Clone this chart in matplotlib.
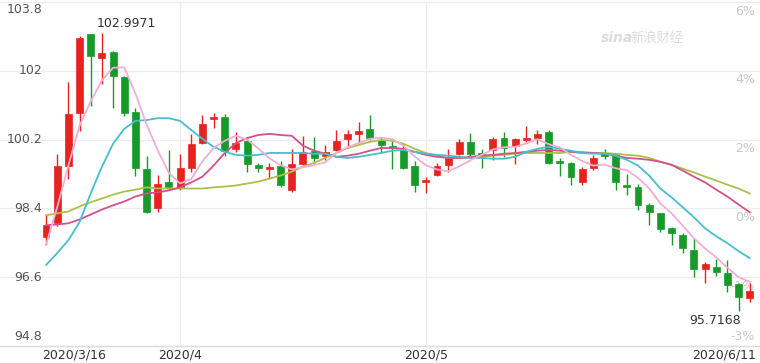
import numpy as np
import matplotlib
matplotlib.use("Agg")
from matplotlib import pyplot as plt

# daily candles, 2020/3/16 .. 2020/6/11
opens = [97.65, 98.01, 99.52, 100.90, 102.95, 102.33, 102.48, 101.83, 100.92, 99.44,
         98.40, 99.10, 98.95, 99.47, 100.12, 100.74, 100.79, 99.96, 100.17, 99.54,
         99.44, 99.52, 98.87, 99.57, 99.91, 99.78, 99.93, 100.22, 100.35, 100.48,
         100.19, 100.04, 99.96, 99.52, 99.08, 99.28, 99.54, 99.83, 100.14, 99.86,
         99.93, 100.25, 100.04, 100.19, 100.25, 100.40, 99.65, 99.60, 99.10, 99.47,
         99.83, 99.83, 99.02, 98.97, 98.48, 98.27, 97.88, 97.70, 97.31, 96.82,
         96.87, 96.71, 96.43, 96.06]
closes = [97.96, 99.52, 100.87, 102.85, 102.38, 102.46, 101.86, 100.90, 99.47, 98.30,
          99.05, 98.95, 99.47, 100.09, 100.61, 100.79, 99.91, 100.12, 99.57, 99.47,
          99.47, 99.00, 99.57, 99.88, 99.73, 99.88, 100.17, 100.35, 100.43, 100.25,
          100.06, 99.98, 99.47, 99.02, 99.10, 99.52, 99.73, 100.14, 99.83, 99.80,
          100.22, 99.99, 100.22, 100.25, 100.35, 99.60, 99.60, 99.21, 99.44, 99.73,
          99.78, 99.08, 98.95, 98.48, 98.30, 97.85, 97.75, 97.36, 96.82, 96.95,
          96.74, 96.40, 96.09, 96.24]
highs = [98.22, 99.83, 101.70, 102.90, 102.97, 102.9971, 102.53, 101.86, 101.03, 99.78,
         99.28, 99.93, 99.83, 100.35, 100.84, 100.90, 100.87, 100.40, 100.27, 99.59,
         99.59, 99.65, 99.96, 100.30, 100.27, 100.06, 100.45, 100.45, 100.66, 100.84,
         100.27, 100.17, 100.12, 99.65, 99.21, 99.59, 99.96, 100.22, 100.38, 99.96,
         100.27, 100.40, 100.25, 100.56, 100.45, 100.45, 99.73, 99.62, 99.49, 99.80,
         99.96, 99.86, 99.31, 99.05, 98.53, 98.27, 97.91, 97.75, 97.62, 97.00,
         97.08, 97.05, 96.45, 96.45]
lows = [97.44, 97.95, 99.18, 100.43, 101.08, 101.65, 101.03, 100.82, 99.26, 98.27,
        98.30, 98.89, 98.89, 99.36, 100.09, 100.51, 99.78, 99.88, 99.36, 99.36,
        99.18, 98.95, 98.82, 99.54, 99.60, 99.67, 99.91, 99.99, 100.12, 100.19,
        99.86, 99.44, 99.44, 98.82, 98.79, 99.26, 99.34, 99.80, 99.78, 99.47,
        99.67, 99.75, 99.57, 100.14, 100.09, 99.57, 99.26, 99.00, 99.02, 99.41,
        99.70, 98.87, 98.74, 98.35, 97.96, 97.78, 97.44, 97.23, 96.61, 96.45,
        96.63, 96.22, 95.7168, 95.96]

# moving average lines
ma5 = [97.44, 98.43, 99.52, 100.56, 101.20, 101.75, 102.08, 102.09, 101.41, 100.60,
       99.92, 99.33, 99.05, 99.17, 99.63, 99.98, 100.17, 100.30, 100.20, 99.97,
       99.71, 99.53, 99.42, 99.48, 99.53, 99.61, 99.85, 100.00, 100.11, 100.22,
       100.25, 100.21, 100.04, 99.76, 99.53, 99.42, 99.37, 99.50, 99.66, 99.80,
       99.94, 100.00, 100.01, 100.10, 100.21, 100.08, 100.00, 99.80, 99.64, 99.52,
       99.55, 99.45, 99.40, 99.20, 98.92, 98.53, 98.27, 97.95, 97.62, 97.35,
       97.12, 96.85, 96.60, 96.48]
ma10 = [96.92, 97.23, 97.57, 98.04, 98.79, 99.49, 100.09, 100.48, 100.69, 100.71,
        100.76, 100.76, 100.69, 100.45, 100.22, 100.01, 99.88, 99.80, 99.78, 99.80,
        99.85, 99.85, 99.85, 99.85, 99.83, 99.83, 99.75, 99.72, 99.75, 99.80,
        99.85, 99.91, 99.93, 99.88, 99.83, 99.80, 99.78, 99.75, 99.72, 99.72,
        99.70, 99.70, 99.75, 99.88, 99.96, 100.01, 99.96, 99.91, 99.85, 99.83,
        99.83, 99.78, 99.67, 99.52, 99.26, 98.92, 98.69, 98.43, 98.17, 97.88,
        97.67, 97.49, 97.28, 97.10]
ma20 = [97.96, 97.98, 98.01, 98.11, 98.24, 98.37, 98.48, 98.58, 98.71, 98.79,
        98.82, 98.87, 98.95, 99.08, 99.23, 99.52, 99.85, 100.11, 100.24, 100.32,
        100.35, 100.32, 100.30, 100.04, 99.91, 99.83, 99.75, 99.78, 99.83, 99.91,
        99.98, 99.98, 99.96, 99.88, 99.80, 99.75, 99.72, 99.72, 99.75, 99.78,
        99.80, 99.83, 99.85, 99.88, 99.91, 99.93, 99.91, 99.88, 99.85, 99.85,
        99.83, 99.78, 99.72, 99.70, 99.67, 99.62, 99.54, 99.39, 99.23, 99.08,
        98.89, 98.71, 98.50, 98.30]
ma30 = [98.22, 98.27, 98.32, 98.45, 98.56, 98.66, 98.76, 98.84, 98.89, 98.95,
        98.92, 98.92, 98.92, 98.92, 98.92, 98.95, 98.97, 99.00, 99.05, 99.10,
        99.18, 99.26, 99.36, 99.49, 99.59, 99.72, 99.85, 99.98, 100.06, 100.14,
        100.19, 100.17, 100.09, 99.96, 99.85, 99.78, 99.72, 99.72, 99.72, 99.75,
        99.78, 99.80, 99.83, 99.85, 99.85, 99.85, 99.85, 99.88, 99.88, 99.85,
        99.85, 99.83, 99.80, 99.78, 99.72, 99.62, 99.54, 99.44, 99.34, 99.23,
        99.13, 99.02, 98.92, 98.79]

price_ticks = [94.8, 96.6, 98.4, 100.2, 102, 103.8]
price_labels = ["94.8", "96.6", "98.4", "100.2", "102", "103.8"]
pct_labels = ["-3%", "-1%", "0%", "2%", "4%", "6%"]
date_labels = ["2020/3/16", "2020/4", "2020/5", "2020/6/11"]
date_pos = [0, 12, 34, 63]

RED = "#e6231f"
GREEN = "#189a2b"

fig = plt.figure(figsize=(7.6, 3.63), dpi=100)
ax = fig.add_axes([0, 17 / 363, 1, 344 / 363])
ax.set_xlim(-4.12, 63.92)
ax.set_ylim(94.8, 103.8)
ax.axis("off")

# grid
for v in price_ticks:
    ax.axhline(v, color="#ececec", lw=0.9, zorder=0, clip_on=False)
for p in date_pos[1:3]:
    ax.axvline(p, color="#ececec", lw=0.9, zorder=0)
ax.axhline(94.8, color="#dddddd", lw=1.0, zorder=0, clip_on=False)

# candles
x = np.arange(len(closes))
for i in x:
    o, c, h, l = opens[i], closes[i], highs[i], lows[i]
    col = RED if c >= o else GREEN
    ax.vlines(i, l, h, color=col, lw=1.0, zorder=3)
    bottom = min(o, c)
    height = max(abs(c - o), 0.05)
    ax.bar(i, height, bottom=bottom, width=0.62, color=col, edgecolor=col, lw=0.5, zorder=4)

# moving averages
ax.plot(x, ma30, color="#a9c24a", lw=1.3, zorder=5)
ax.plot(x, ma20, color="#d5508c", lw=1.3, zorder=5)
ax.plot(x, ma10, color="#45bfd0", lw=1.3, zorder=5)
ax.plot(x, ma5, color="#f2aed3", lw=1.3, zorder=5)

# axis labels drawn inside the plot
ytr = ax.get_yaxis_transform()
for k, (v, s) in enumerate(zip(price_ticks, price_labels)):
    va = "bottom" if k == 0 else ("top" if k == len(price_ticks) - 1 else "center")
    dy = 0.08 if k == 0 else (-0.03 if k == len(price_ticks) - 1 else 0)
    ax.text(42 / 760, v + dy, s, transform=ytr, ha="right", va=va,
            fontsize=9, color="#555555", zorder=1)
for k, (v, s) in enumerate(zip(price_ticks, pct_labels)):
    va = "bottom" if k == 0 else "top"
    dy = 0.08 if k == 0 else -0.07
    ax.text(755 / 760, v + dy, s, transform=ytr, ha="right", va=va,
            fontsize=9, color="#c8c8c8", zorder=1)

xtr = ax.get_xaxis_transform()
for p, s in zip(date_pos, date_labels):
    if p == date_pos[0]:
        ax.text(p - 0.35, -0.027, s, transform=xtr, ha="left", va="center", fontsize=9, color="#333333")
    elif p == date_pos[-1]:
        ax.text(p + 0.55, -0.027, s, transform=xtr, ha="right", va="center", fontsize=9, color="#333333")
    else:
        ax.text(p, -0.027, s, transform=xtr, ha="center", va="center", fontsize=9, color="#333333")

# max / min annotations
imax = int(np.argmax(highs))
imin = int(np.argmin(lows))
ax.annotate(f"{highs[imax]:.4f}", (imax, highs[imax]), xytext=(-5, 3),
            textcoords="offset pixels", ha="left", va="bottom", fontsize=9, color="#333333")
ax.annotate(f"{lows[imin]:.4f}", (imin, lows[imin]), xytext=(2, -3),
            textcoords="offset pixels", ha="right", va="top", fontsize=9, color="#333333")

# watermark
fig.text(601 / 760, 1 - 38 / 363, "sina", fontsize=10, style="italic", weight="bold",
         color="#dcdcdc", va="center", ha="left")
fig.text(630 / 760, 1 - 38 / 363, "新浪财经", fontsize=9.5, color="#dcdcdc",
         va="center", ha="left", family=["Noto Sans CJK SC", "DejaVu Sans"])

fig.savefig("out.png", dpi=100, facecolor="white")
